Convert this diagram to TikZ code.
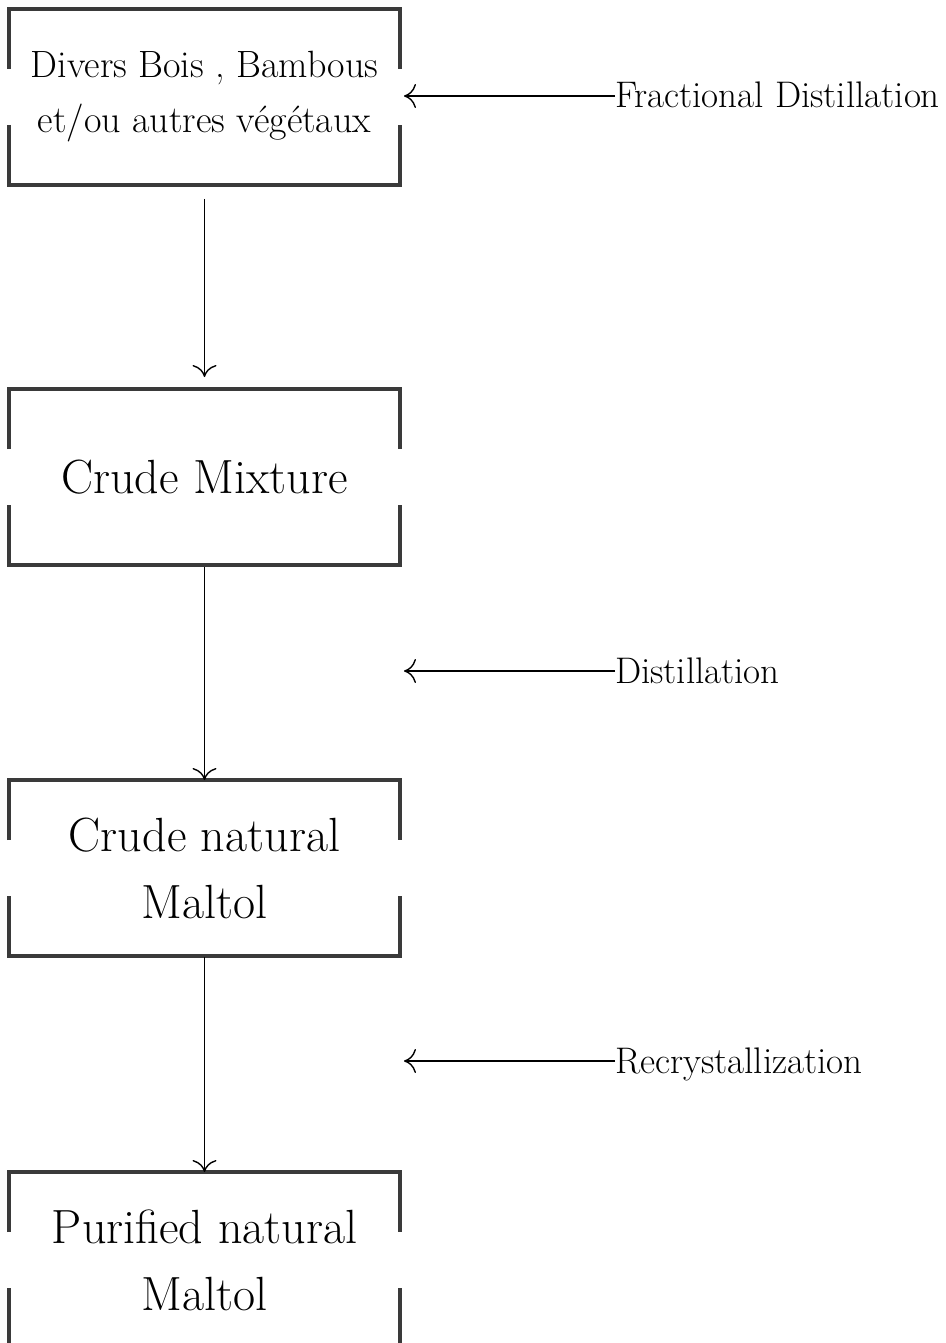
\documentclass[tikz,border=0pt]{standalone}
\usetikzlibrary{positioning,arrows.meta}
\definecolor{framegray}{HTML}{3A3A3A}

\begin{document}
\begin{tikzpicture}[x=1pt, y=-1pt,
			every node/.style = {inner sep=0pt, outer sep=0pt},
			stage/.style = {shape=rectangle, align=center,
					minimum width=391pt, minimum height=176pt,
					font=\fontsize{48}{67}\selectfont},
			small stage/.style = {stage, font=\fontsize{38}{55}\selectfont},
			proclabel/.style = {anchor=west, text height=24pt, text depth=0pt,
					font=\fontsize{37}{44}\selectfont},
			boxside/.style = {draw=framegray, line width=3.5pt},
			flow/.style = {draw, line width=1.4pt,
					-{Computer Modern Rightarrow[length=12pt,width=24pt]}},
			node distance=204pt]
	\useasboundingbox (0,0) rectangle (945,1343);
	% stages
	\node[small stage] (wood) at (204.5,97) {Divers Bois , Bambous\\et/ou autres végétaux};
	\node[stage, below=of wood] (crude) {Crude Mixture};
	\node[stage, below=215pt of crude] (rawmaltol) {Crude natural\\Maltol};
	\node[stage, below=216pt of rawmaltol] (puremaltol) {Purified natural\\Maltol};
	% process steps
	\node[proclabel] (fracdist) at (615,96) {Fractional Distillation};
	\node[proclabel] (distil) at (615,671) {Distillation};
	\node[proclabel] (recryst) at (615,1061) {Recrystallization};
	% open frames
	\foreach \n in {wood,crude,rawmaltol,puremaltol} {
		\draw[boxside] ([yshift=28pt]\n.west) -- (\n.north west) -- (\n.north east) -- ([yshift=28pt]\n.east);
		\draw[boxside] ([yshift=-28pt]\n.west) -- (\n.south west) -- (\n.south east) -- ([yshift=-28pt]\n.east);
	}
	\draw[flow, shorten <=14pt, shorten >=12pt] (wood) -- (crude);
	\draw[flow, shorten <=2pt] (crude) -- (rawmaltol);
	\draw[flow, shorten <=1pt] (rawmaltol) -- (puremaltol);
	\draw[flow, shorten >=4pt] (fracdist.west) -- (fracdist.west -| wood.east);
	\draw[flow, shorten >=4pt] (distil.west) -- (distil.west -| wood.east);
	\draw[flow, shorten >=4pt] (recryst.west) -- (recryst.west -| wood.east);
\end{tikzpicture}
\end{document}
